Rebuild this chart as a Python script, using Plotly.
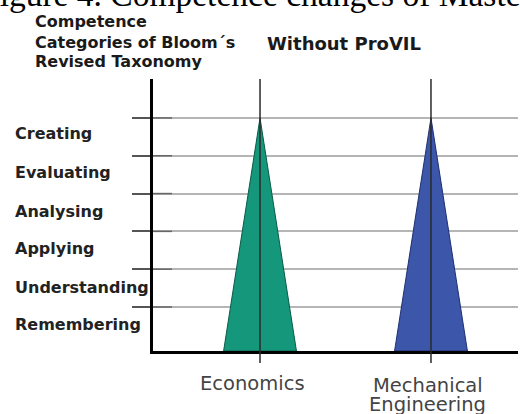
import plotly.graph_objects as go

# ---- data ----
levels = ["Remembering", "Understanding", "Applying", "Analysing", "Evaluating", "Creating"]
disciplines = ["Economics", "Mechanical Engineering"]
discipline_label_lines = [["Economics"], ["Mechanical", "Engineering"]]
peak_level = ["Creating", "Creating"]
colors = ["#14977a", "#3c56aa"]
edge_colors = ["#0b5a48", "#1f2f72"]

W, H = 520, 414
L, R, T, B = 153, 2, 79, 63
plot_w = W - L - R
plot_h = H - T - B

y_base = -0.164
y_top = 7.03
x_min, x_max = -0.626, 1.509
half_w = 0.213

fig = go.Figure()

for i, name in enumerate(disciplines):
    peak = levels.index(peak_level[i]) + 1
    fig.add_trace(go.Scatter(
        x=[i - half_w, i, i + half_w, i - half_w],
        y=[y_base, peak, y_base, y_base],
        mode="lines", fill="toself",
        fillcolor=colors[i],
        line=dict(color=edge_colors[i], width=1),
        name=name, showlegend=False, hoverinfo="skip",
    ))

shapes = []
# vertical category lines (above traces, extending below the axis)
for i in range(len(disciplines)):
    shapes.append(dict(type="line", xref="x", yref="paper",
                       x0=i, x1=i, y0=-12 / plot_h, y1=1.0,
                       line=dict(color="#2a2a2a", width=1.5), layer="above"))
# darker inner segment of level lines
for k in range(1, len(levels) + 1):
    shapes.append(dict(type="line", xref="paper", yref="y",
                       x0=0, x1=19 / plot_w, y0=k, y1=k,
                       line=dict(color="#666666", width=1.5), layer="above"))

annotations = []
# level labels (left aligned)
label_offsets = [0.55, 0.52, 0.55, 0.53, 0.55, 0.58]
for j, lev in enumerate(levels):
    annotations.append(dict(
        text=lev, xref="paper", yref="y", x=(13 - L) / plot_w, y=j + label_offsets[j],
        xanchor="left", yanchor="middle", showarrow=False,
        font=dict(family="DejaVu Sans", size=16, color="#222222", weight="bold"),
    ))
# category labels (one annotation per line)
xshifts = [-8, -3]
line_centers = [[383], [385, 404]]
for i, lines in enumerate(discipline_label_lines):
    for ln, cy in zip(lines, line_centers[i]):
        annotations.append(dict(
            text=ln, xref="x", yref="paper", x=i, y=-(cy - (H - B)) / plot_h,
            xanchor="center", yanchor="middle", showarrow=False, xshift=xshifts[i],
            font=dict(family="DejaVu Sans", size=19.5, color="#444444"),
        ))

# axis title lines
title_lines = ["Competence", "Categories of Bloom´s", "Revised Taxonomy"]
title_y = [21, 42, 61]
for t, yy in zip(title_lines, title_y):
    annotations.append(dict(
        text=t, xref="paper", yref="paper", x=(33 - L) / plot_w, y=1 + (T - yy) / plot_h,
        xanchor="left", yanchor="middle", showarrow=False,
        font=dict(family="DejaVu Sans", size=16, color="#1a1a1a", weight="bold"),
    ))
# chart title
annotations.append(dict(
    text="Without ProVIL", xref="paper", yref="paper", x=(265 - L) / plot_w, y=1 + (T - 43) / plot_h,
    xanchor="left", yanchor="middle", showarrow=False,
    font=dict(family="DejaVu Sans", size=18, color="#1a1a1a", weight="bold"),
))
# cropped caption at the very top
annotations.append(dict(
    text="Figure 4. Competence changes of Master", xref="paper", yref="paper",
    x=(-21 - L) / plot_w, y=1 + (T - 15) / plot_h,
    xanchor="left", yanchor="bottom", showarrow=False,
    font=dict(family="Liberation Serif", size=33.5, color="#000000"),
))

fig.update_layout(
    width=W, height=H,
    margin=dict(l=L, r=R, t=T, b=B, pad=0),
    paper_bgcolor="white", plot_bgcolor="white",
    shapes=shapes, annotations=annotations,
    xaxis=dict(range=[x_min, x_max], showgrid=False, zeroline=False,
               showticklabels=False, ticks="",
               showline=True, linecolor="#000000", linewidth=2.5, fixedrange=True),
    yaxis=dict(range=[y_base, y_top], zeroline=False,
               tickvals=list(range(1, len(levels) + 1)), showticklabels=False,
               ticks="outside", ticklen=18, tickcolor="#555555", tickwidth=1.5,
               showgrid=True, gridcolor="#b5b5b5", gridwidth=1.5,
               showline=True, linecolor="#000000", linewidth=2.5, fixedrange=True),
)

fig.write_html("out.html", config={"displayModeBar": False},
               post_script="document.body.style.margin='0';document.body.style.overflow='hidden';")
